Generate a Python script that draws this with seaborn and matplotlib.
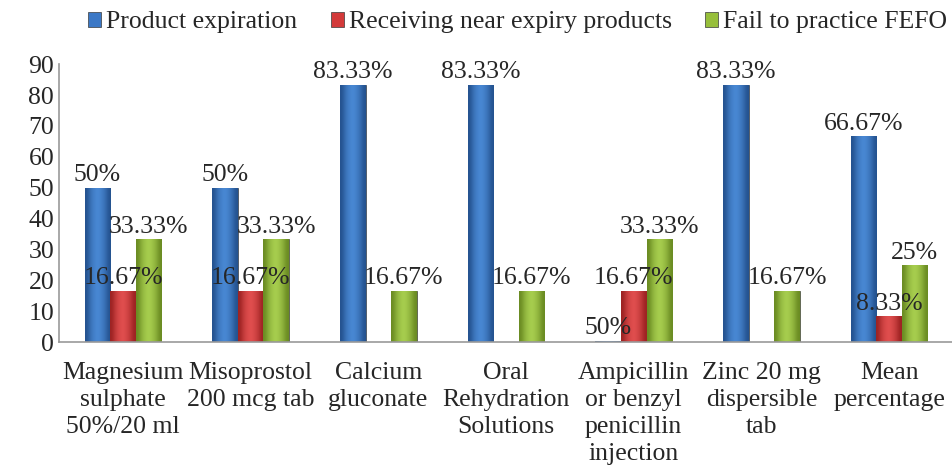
import numpy as np
import pandas as pd
import seaborn as sns
import matplotlib.pyplot as plt
from matplotlib.colors import LinearSegmentedColormap

# %% data
categories = ["Magnesium\nsulphate\n50%/20 ml", "Misoprostol\n200 mcg tab", "Calcium\ngluconate",
              "Oral\nRehydration\nSolutions", "Ampicillin\nor benzyl\npenicillin\ninjection",
              "Zinc 20 mg\ndispersible\ntab", "Mean\npercentage"]
series = ["Product expiration", "Receiving near expiry products", "Fail to practice FEFO"]
product_expiration = [50, 50, 83.33, 83.33, 0.5, 83.33, 66.67]
near_expiry = [16.67, 16.67, 0, 0, 16.67, 0, 8.33]
fail_fefo = [33.33, 33.33, 16.67, 16.67, 33.33, 16.67, 25]
labels_expiration = ["50%", "50%", "83.33%", "83.33%", "50%", "83.33%", "66.67%"]
labels_near = ["16.67%", "16.67%", "", "", "16.67%", "", "8.33%"]
labels_fefo = ["33.33%", "33.33%", "16.67%", "16.67%", "33.33%", "16.67%", "25%"]

df = pd.DataFrame({
    "category": categories * 3,
    "series": [series[0]] * 7 + [series[1]] * 7 + [series[2]] * 7,
    "value": product_expiration + near_expiry + fail_fefo,
})

# %% plot
sns.set_style("white")
plt.rcParams["font.family"] = ["Liberation Serif", "DejaVu Serif"]
fs = 18.5

fig = plt.figure(figsize=(9.53, 4.72), dpi=100)
ax = fig.add_axes([0.062, 0.275, 0.938, 0.589])
colors = ["#3b78c6", "#d33a3a", "#97bf3b"]
shades = [("#24528f", "#4a8ad6"), ("#9c2222", "#e35050"), ("#6a8b22", "#a9d050")]
sns.barplot(data=df, x="category", y="value", hue="series", palette=colors,
            width=0.6, edgecolor="#3a3a3a", linewidth=0.5, ax=ax, saturation=1)

# shaded look on each bar
grad = np.array([[0.0, 0.55, 0.85, 1.0, 0.8, 0.5, 0.0]])
for cont, (dark, light) in zip(ax.containers, shades):
    cmap = LinearSegmentedColormap.from_list("g", [dark, light])
    for p in cont.patches:
        if p.get_height() <= 0:
            continue
        x0, w, h = p.get_x(), p.get_width(), p.get_height()
        im = ax.imshow(grad, cmap=cmap, aspect="auto", extent=(x0, x0 + w, 0, h),
                       interpolation="bicubic", zorder=p.get_zorder(), vmin=0, vmax=1)
        im.set_clip_path(p)

for cont, labs in zip(ax.containers, [labels_expiration, labels_near, labels_fefo]):
    ax.bar_label(cont, labels=labs, padding=1, fontsize=fs)

ax.set_ylim(0, 90)
ax.set_xlim(-0.5, 6.5)
ax.set_yticks(range(0, 91, 10))
ax.set_xlabel("")
ax.set_ylabel("")
ax.tick_params(axis="both", labelsize=fs, length=0)
ax.tick_params(axis="x", pad=14)
for lab in ax.get_xticklabels():
    lab.set_linespacing(1.3)
for s in ["top", "right"]:
    ax.spines[s].set_visible(False)
for s in ["left", "bottom"]:
    ax.spines[s].set_color("#999999")
    ax.spines[s].set_linewidth(1.2)

ax.legend(loc="center", bbox_to_anchor=(0.513, 1.15), ncol=3, frameon=False,
          fontsize=fs, handlelength=0.5, handleheight=0.5, handletextpad=0.2,
          columnspacing=1.3)

fig.savefig("out.png", dpi=100)
